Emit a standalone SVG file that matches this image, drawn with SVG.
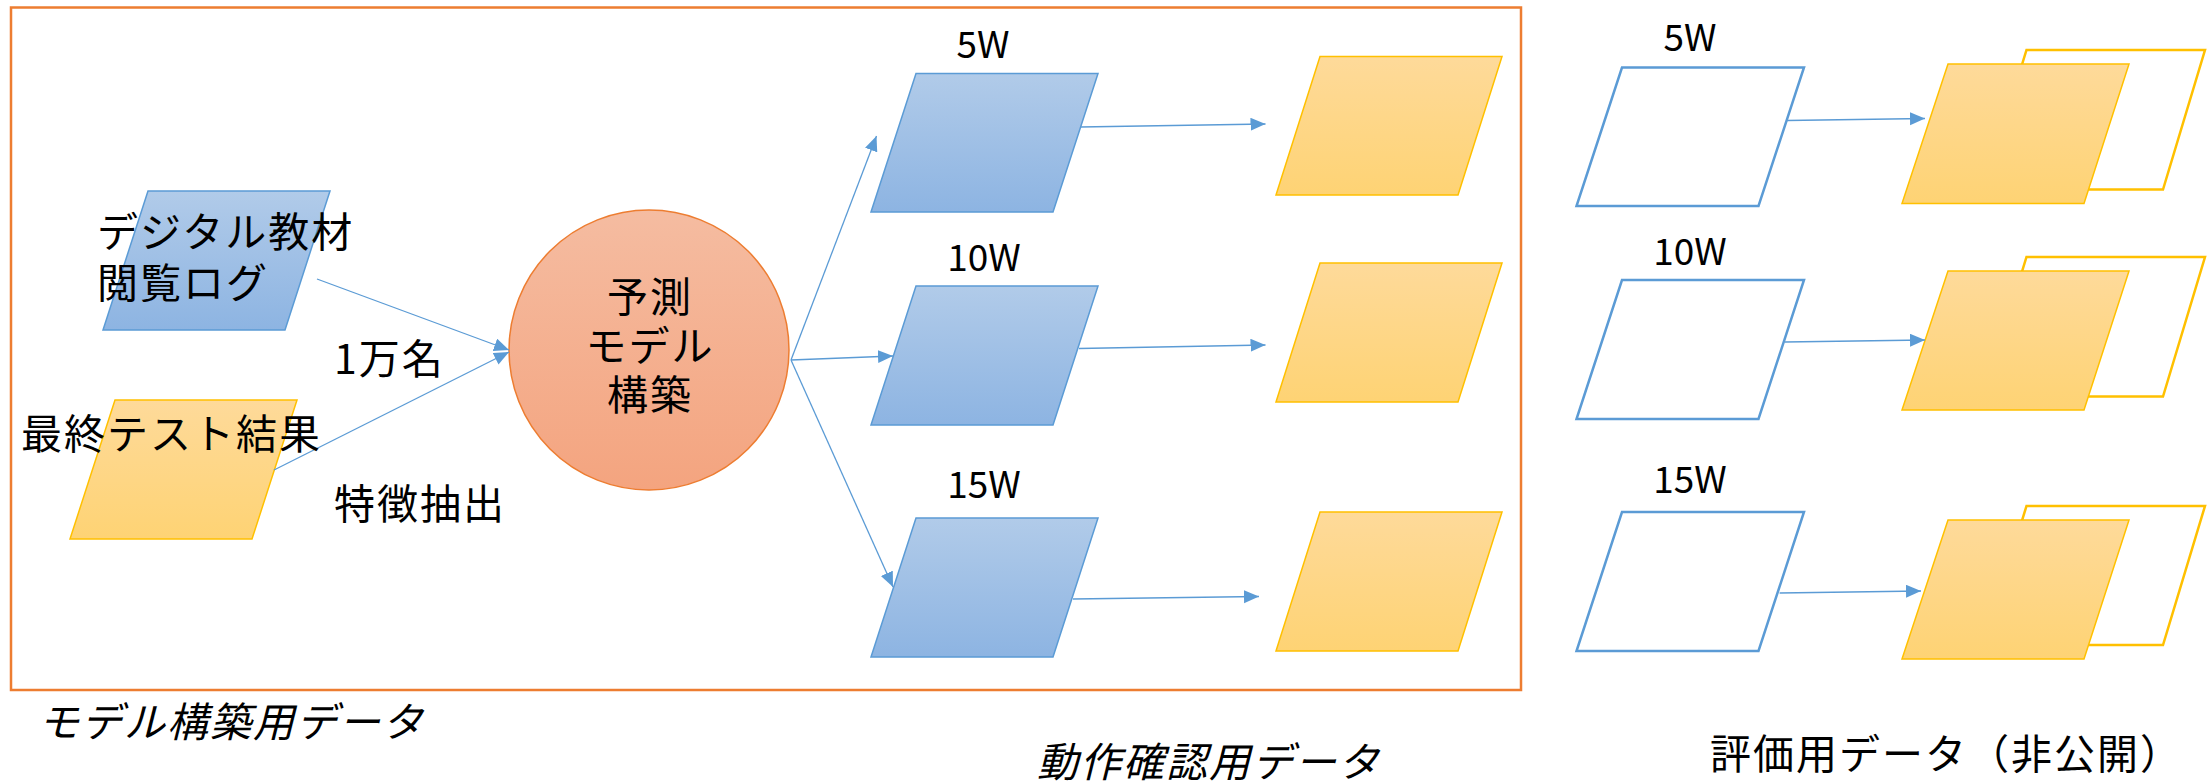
<svg xmlns="http://www.w3.org/2000/svg" width="2207" height="784" viewBox="0 0 2207 784">
<style>
.t{font-family:"Noto Sans CJK JP","Noto Sans",sans-serif;font-size:41px;letter-spacing:2px;fill:#000}
.n{font-family:"Noto Sans CJK JP","Noto Sans",sans-serif;font-size:37px;fill:#000;text-anchor:middle}
.it{font-style:italic}
.blue{fill:url(#gBlue);stroke:#5B9BD5;stroke-width:1.5}
.yel{fill:url(#gYel);stroke:#FFC000;stroke-width:1.5}
.wht{fill:#fff;stroke:#5B9BD5;stroke-width:2.5}
.yout{fill:#fff;stroke:#FFC000;stroke-width:2.5}
.c{fill:none;stroke:#5B9BD5;stroke-width:1.3;marker-end:url(#arr)}
</style>
<defs>
<linearGradient id="gBlue" x1="0" y1="0" x2="0" y2="1"><stop offset="0" stop-color="#B1CBE9"/><stop offset="1" stop-color="#8DB4E2"/></linearGradient>
<linearGradient id="gYel" x1="0" y1="0" x2="0" y2="1"><stop offset="0" stop-color="#FEDA9A"/><stop offset="1" stop-color="#FED374"/></linearGradient>
<linearGradient id="gCirc" x1="0" y1="0" x2="0" y2="1"><stop offset="0" stop-color="#F5BCA1"/><stop offset="1" stop-color="#F4A47F"/></linearGradient>
<marker id="arr" markerUnits="userSpaceOnUse" markerWidth="16" markerHeight="14" refX="15" refY="6.5" orient="auto"><path d="M0,0 L15,6.5 L0,13 z" fill="#5B9BD5"/></marker>
</defs>
<g id="frame"><rect x="11" y="7.5" width="1510" height="682.5" fill="none" stroke="#ED7D31" stroke-width="2.5"/></g>

<g id="in-log"><polygon class="blue" points="148,191 330,191 285,330 103,330"/></g>
<g id="in-test"><polygon class="yel" points="115,400 297,400 252,539 70,539"/></g>
<g id="model"><circle cx="649" cy="350" r="140" fill="url(#gCirc)" stroke="#ED7D31" stroke-width="1.5"/></g>

<g id="mid-5"><polygon class="blue" points="916,73.5 1098,73.5 1053,212 871,212"/></g>
<g id="mid-10"><polygon class="blue" points="916,286 1098,286 1053,425 871,425"/></g>
<g id="mid-15"><polygon class="blue" points="916,518 1098,518 1053,657 871,657"/></g>
<g id="midout-5"><polygon class="yel" points="1320,56.5 1502,56.5 1458,195 1276,195"/></g>
<g id="midout-10"><polygon class="yel" points="1320,263 1502,263 1458,402 1276,402"/></g>
<g id="midout-15"><polygon class="yel" points="1320,512 1502,512 1458,651 1276,651"/></g>

<g id="eval-5"><polygon class="wht" points="1622,67.5 1804,67.5 1758.5,206 1576.5,206"/></g>
<g id="eval-10"><polygon class="wht" points="1622,280 1804,280 1758.5,419 1576.5,419"/></g>
<g id="eval-15"><polygon class="wht" points="1622,512 1804,512 1758.5,651 1576.5,651"/></g>
<g id="evalout-5"><polygon class="yout" points="2026.5,50 2205,50 2163,189.5 1983.5,189.5"/><polygon class="yel" points="1948,64 2129,64 2084,203.5 1902,203.5"/></g>
<g id="evalout-10"><polygon class="yout" points="2026.5,257 2205,257 2163,396.5 1983.5,396.5"/><polygon class="yel" points="1948,271 2129,271 2084,410 1902,410"/></g>
<g id="evalout-15"><polygon class="yout" points="2026.5,506 2205,506 2163,645 1983.5,645"/><polygon class="yel" points="1948,520 2129,520 2084,659 1902,659"/></g>

<g id="connectors">
<line class="c" x1="317" y1="279" x2="509" y2="350"/>
<line class="c" x1="274" y1="470" x2="509" y2="352"/>
<line class="c" x1="791" y1="360" x2="876.5" y2="136"/>
<line class="c" x1="791" y1="360" x2="893" y2="356"/>
<line class="c" x1="791" y1="360" x2="893" y2="587"/>
<line class="c" x1="1080" y1="127" x2="1265.5" y2="124"/>
<line class="c" x1="1079" y1="348.5" x2="1265.5" y2="345"/>
<line class="c" x1="1073" y1="599" x2="1259" y2="596.5"/>
<line class="c" x1="1787" y1="120.5" x2="1925" y2="118.5"/>
<line class="c" x1="1785" y1="342" x2="1925" y2="340"/>
<line class="c" x1="1779.6" y1="593" x2="1921" y2="591"/>
</g>

<g id="labels">
<text class="t" x="97" y="247">デジタル教材</text>
<text class="t" x="97" y="298">閲覧ログ</text>
<text class="t" x="21" y="449">最終テスト結果</text>
<text class="t" x="334" y="374">1万名</text>
<text class="t" x="334" y="519">特徴抽出</text>
<text class="t" x="650" y="312" text-anchor="middle">予測</text>
<text class="t" x="650" y="361" text-anchor="middle">モデル</text>
<text class="t" x="650" y="410" text-anchor="middle">構築</text>
<text class="n" x="983" y="58">5W</text>
<text class="n" x="984" y="271">10W</text>
<text class="n" x="984" y="498">15W</text>
<text class="n" x="1690" y="51">5W</text>
<text class="n" x="1690" y="265">10W</text>
<text class="n" x="1690" y="493">15W</text>
<text class="t it" x="38" y="737">モデル構築用データ</text>
<text class="t it" x="1037" y="777">動作確認用データ</text>
<text class="t" x="1710" y="769">評価用データ（非公開）</text>
</g>
</svg>
